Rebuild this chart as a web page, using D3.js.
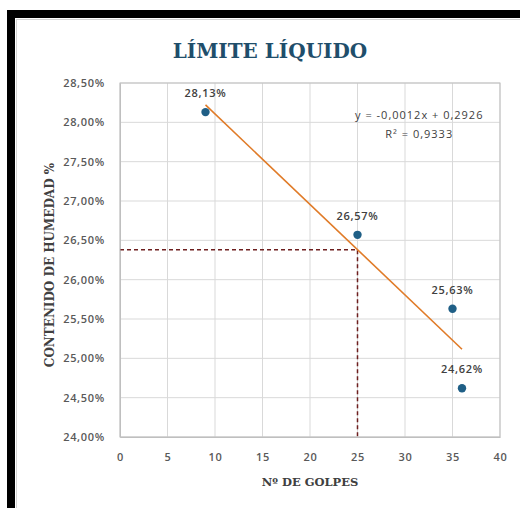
<!DOCTYPE html>
<html>
<head>
<meta charset="utf-8">
<script src="https://cdn.jsdelivr.net/npm/d3@7"></script>
<style>
  body { margin: 0; background: #fff; }
  svg { display: block; }
</style>
</head>
<body>
<div class="ScatterChart"></div>
<script>
const golpes = [9, 25, 35, 36];
const humedad = [0.2813, 0.2657, 0.2563, 0.2462];
const xTicks = [0, 5, 10, 15, 20, 25, 30, 35, 40];
const yTicks = [0.24, 0.245, 0.25, 0.255, 0.26, 0.265, 0.27, 0.275, 0.28, 0.285];
const golpesRef = 25;
const equationLines = ["y = -0,0012x + 0,2926", "R² = 0,9333"];

const locale = d3.formatLocale({ decimal: ",", thousands: ".", grouping: [3], currency: ["", "€"] });
const fmtAxis = locale.format(".2%");

const width = 520, height = 508;
const margin = { top: 83, right: 20, bottom: 69, left: 120 };
const innerW = width - margin.left - margin.right;
const innerH = height - margin.top - margin.bottom - 2;

function linearFit(xs, ys) {
  const mx = d3.mean(xs), my = d3.mean(ys);
  const sxy = d3.sum(xs, (x, i) => (x - mx) * (ys[i] - my));
  const sxx = d3.sum(xs, x => (x - mx) * (x - mx));
  const slope = sxy / sxx;
  return { slope, intercept: my - slope * mx };
}

function setupSvg() {
  const root = d3.select(".ScatterChart")
    .append("svg")
    .attr("width", width)
    .attr("height", height);

  // black frame of the pasted picture
  root.append("rect").attr("x", 7).attr("y", 10).attr("width", 540).attr("height", 520).attr("fill", "#000");
  root.append("rect").attr("x", 15).attr("y", 18).attr("width", 540).attr("height", 520).attr("fill", "#fff");
  root.append("rect").attr("x", 16.5).attr("y", 19.5).attr("width", 540).attr("height", 520)
    .attr("fill", "none").attr("stroke", "#d4d4d4");

  const svg = root.append("g")
    .attr("transform", `translate(${margin.left},${margin.top})`);
  return { root, svg };
}

function drawAxes(svg, x, y) {
  svg.append("g")
    .selectAll("line.vgrid")
    .data(xTicks)
    .join("line")
    .attr("x1", d => x(d)).attr("x2", d => x(d))
    .attr("y1", 0).attr("y2", innerH)
    .attr("stroke", "#d9d9d9").attr("stroke-width", 1);

  svg.append("g")
    .selectAll("line.hgrid")
    .data(yTicks)
    .join("line")
    .attr("x1", 0).attr("x2", innerW)
    .attr("y1", d => y(d)).attr("y2", d => y(d))
    .attr("stroke", "#d9d9d9").attr("stroke-width", 1);

  const xAxis = svg.append("g")
    .attr("transform", `translate(0,${innerH})`)
    .call(d3.axisBottom(x).tickValues(xTicks).tickSize(0).tickPadding(16).tickFormat(d3.format("d")));
  xAxis.select(".domain").attr("stroke", "#bfbfbf");

  const yAxis = svg.append("g")
    .call(d3.axisLeft(y).tickValues(yTicks).tickSize(0).tickPadding(15).tickFormat(fmtAxis));
  yAxis.select(".domain").attr("stroke", "#bfbfbf");

  svg.selectAll(".tick text")
    .attr("fill", "#595959")
    .style("font-family", "'Open Sans', sans-serif")
    .style("font-size", "11px")
    .style("letter-spacing", "0.7px")
    .style("font-weight", "600");
}

function drawTitles(root) {
  root.append("text")
    .attr("x", 270).attr("y", 58)
    .attr("text-anchor", "middle")
    .attr("fill", "#1f4e6b")
    .style("font-family", "'DejaVu Serif', serif")
    .style("font-size", "20px")
    .style("font-weight", "bold")
    .text("LÍMITE LÍQUIDO");

  root.append("text")
    .attr("x", 310).attr("y", 486)
    .attr("text-anchor", "middle")
    .attr("fill", "#404040")
    .style("font-family", "'DejaVu Serif', serif")
    .style("font-size", "11.5px")
    .style("font-weight", "bold")
    .text("Nº DE GOLPES");

  root.append("text")
    .attr("transform", "translate(54,265) rotate(-90)")
    .attr("text-anchor", "middle")
    .attr("fill", "#404040")
    .style("font-family", "'DejaVu Serif', serif")
    .style("font-size", "12px")
    .style("font-weight", "bold")
    .text("CONTENIDO DE HUMEDAD %");
}

function drawMarks(svg, x, y) {
  const fit = linearFit(golpes, humedad);
  const yRef = fit.slope * golpesRef + fit.intercept;

  // dashed reading at 25 blows
  svg.append("path")
    .attr("d", d3.line()([[x(0), y(yRef)], [x(golpesRef), y(yRef)], [x(golpesRef), y(yTicks[0])]]))
    .attr("fill", "none")
    .attr("stroke", "#6e1f1f")
    .attr("stroke-width", 1.5)
    .attr("stroke-dasharray", "4,3");

  const xExt = d3.extent(golpes);
  svg.append("path")
    .datum(xExt)
    .attr("d", d3.line().x(d => x(d)).y(d => y(fit.slope * d + fit.intercept)))
    .attr("fill", "none")
    .attr("stroke", "#e07b28")
    .attr("stroke-width", 1.6);

  const pts = golpes.map((g, i) => ({ g, h: humedad[i] }));

  svg.selectAll("circle.pt")
    .data(pts)
    .join("circle")
    .attr("class", "pt")
    .attr("cx", d => x(d.g))
    .attr("cy", d => y(d.h))
    .attr("r", 4.2)
    .attr("fill", "#1f5f86");

  svg.selectAll("text.lbl")
    .data(pts)
    .join("text")
    .attr("class", "lbl")
    .attr("x", d => x(d.g))
    .attr("y", d => y(d.h) - 15)
    .attr("text-anchor", "middle")
    .attr("fill", "#404040")
    .style("font-family", "'Open Sans', sans-serif")
    .style("font-size", "11px")
    .style("letter-spacing", "0.7px")
    .style("font-weight", "600")
    .text(d => fmtAxis(d.h));

  svg.append("g")
    .selectAll("text")
    .data(equationLines)
    .join("text")
    .attr("x", x(31.5))
    .attr("y", (d, i) => y(0.2805) + 1 + i * 19)
    .attr("text-anchor", "middle")
    .attr("fill", "#404040")
    .style("font-family", "'Open Sans', sans-serif")
    .style("font-size", "11px")
    .style("letter-spacing", "1px")
    .text(d => d);
}

function createScatterChart() {
  const { root, svg } = setupSvg();

  const x = d3.scaleLinear().domain([xTicks[0], xTicks[xTicks.length - 1]]).range([0, innerW]);
  const y = d3.scaleLinear().domain([yTicks[0], yTicks[yTicks.length - 1]]).range([innerH, 0]);

  drawAxes(svg, x, y);
  drawTitles(root);
  drawMarks(svg, x, y);

  // plot area frame
  svg.append("rect")
    .attr("width", innerW).attr("height", innerH)
    .attr("fill", "none").attr("stroke", "#bfbfbf");
}

createScatterChart();
</script>
</body>
</html>
